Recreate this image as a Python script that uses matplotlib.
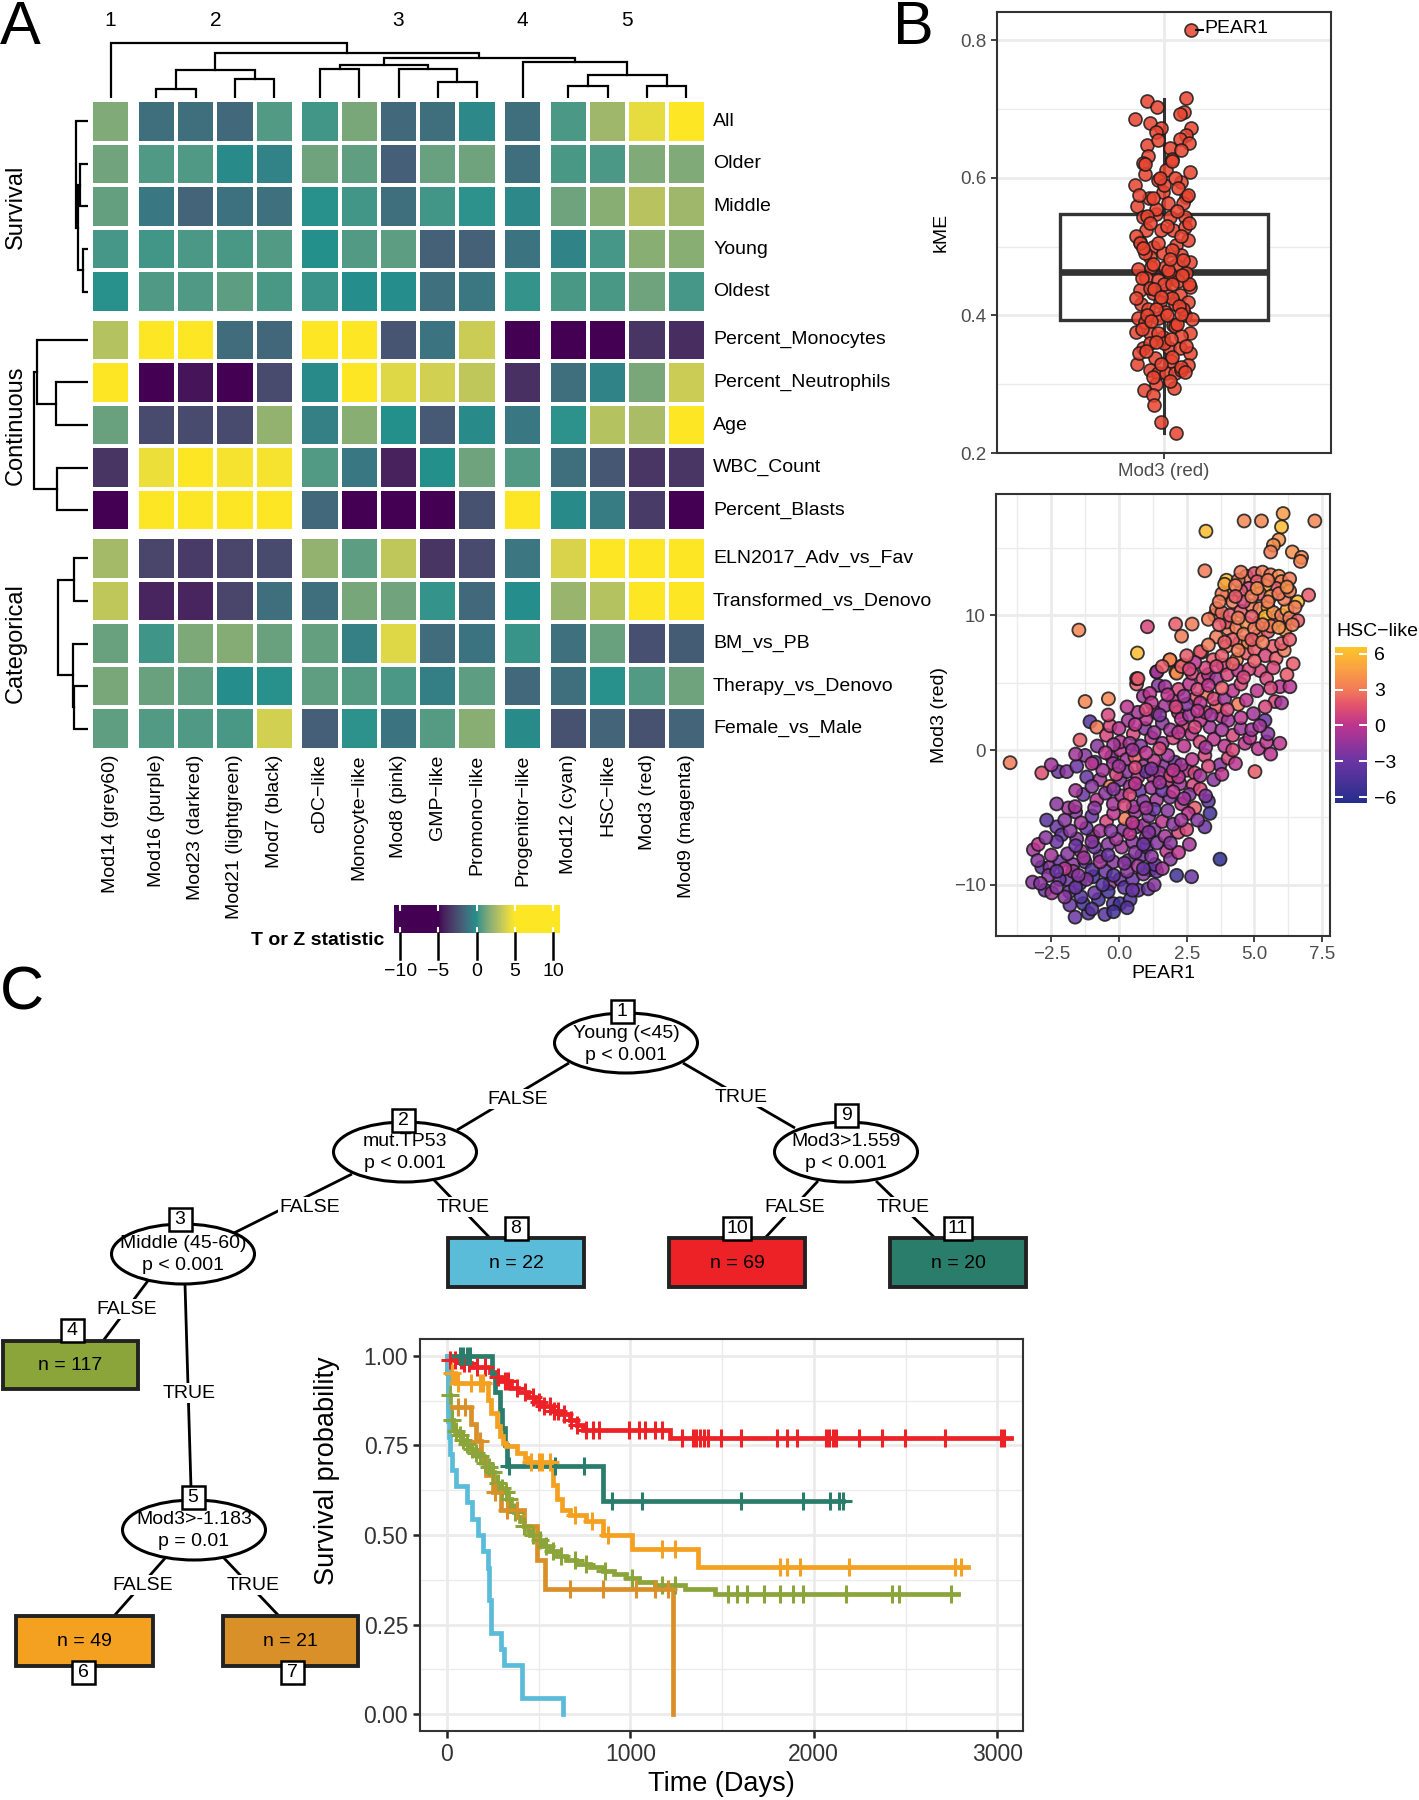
import numpy as np
import matplotlib
matplotlib.use("Agg")
import matplotlib.pyplot as plt
from matplotlib.patches import Ellipse, Rectangle
from matplotlib.colors import ListedColormap, Normalize, LinearSegmentedColormap, to_rgb
from matplotlib.cm import ScalarMappable
from matplotlib.transforms import blended_transform_factory

plt.rcParams['font.family'] = ['Liberation Sans', 'DejaVu Sans']

# ---------------------------------------------------------------- data: panel A
hm_cols = ["Mod14 (grey60)", "Mod16 (purple)", "Mod23 (darkred)", "Mod21 (lightgreen)", "Mod7 (black)",
           "cDC\u2212like", "Monocyte\u2212like", "Mod8 (pink)", "GMP\u2212like", "Promono\u2212like",
           "Progenitor\u2212like", "Mod12 (cyan)", "HSC\u2212like", "Mod3 (red)", "Mod9 (magenta)"]
hm_col_cluster = [1, 2, 2, 2, 2, 3, 3, 3, 3, 3, 4, 5, 5, 5, 5]
hm_rows = ["All", "Older", "Middle", "Young", "Oldest",
           "Percent_Monocytes", "Percent_Neutrophils", "Age", "WBC_Count", "Percent_Blasts",
           "ELN2017_Adv_vs_Fav", "Transformed_vs_Denovo", "BM_vs_PB", "Therapy_vs_Denovo", "Female_vs_Male"]
hm_row_groups = ["Survival"] * 5 + ["Continuous"] * 5 + ["Categorical"] * 5
hm_values = [
    [1.55, -1.3, -1.3, -1.5, 0.6, 0.35, 1.4, -1.5, -1.3, -0.3, -1.3, 0.5, 2.3, 4.3, 5.5],
    [1.2, 0.55, 0.55, -0.2, -0.5, 1.15, 0.85, -1.9, 1.0, 1.15, -1.3, 0.45, 0.5, 1.55, 1.55],
    [0.9, -0.9, -1.7, -1.2, -1.25, 0.05, 0.35, -1.3, 0.35, 0.1, -0.3, 1.15, 1.75, 3.0, 2.3],
    [0.4, 0.35, 0.47, 0.45, 0.6, 0.0, 0.6, 0.8, -1.8, -1.8, -1.1, -0.45, 0.4, 1.75, 1.75],
    [0.05, 0.57, 0.55, 0.8, 0.45, 0.25, -0.1, -0.1, -1.25, -0.95, 0.18, 0.45, 0.45, 1.15, 0.4],
    [2.9, 6.0, 6.0, -1.4, -1.6, 6.0, 6.0, -2.3, -1.1, 3.5, -6.0, -6.0, -6.0, -3.55, -3.8],
    [6.0, -6.0, -4.6, -6.0, -2.7, -0.2, 6.0, 4.1, 3.7, 3.2, -3.7, -1.3, -0.45, 1.4, 3.5],
    [1.05, -2.7, -2.7, -2.7, 2.0, -0.6, 1.75, 0.0, -2.1, -0.2, -0.9, 0.1, 2.9, 2.6, 6.0],
    [-3.55, 4.5, 6.0, 4.8, 4.8, 0.6, -0.9, -4.2, 0.0, 1.15, 0.6, -1.3, -2.2, -3.5, -3.5],
    [-6.0, 6.0, 6.0, 6.0, 6.0, -1.5, -6.0, -6.0, -6.0, -2.4, 5.3, -0.2, -0.8, -3.3, -6.0],
    [2.45, -2.9, -3.3, -2.9, -2.7, 2.0, 0.8, 3.2, -3.55, -2.7, -1.0, 3.9, 6.0, 6.0, 6.0],
    [3.2, -4.1, -4.1, -2.9, -1.3, -1.3, 1.3, 1.2, 0.18, -1.5, -0.1, 2.15, 2.9, 6.0, 6.0],
    [1.05, 0.3, 1.45, 1.65, 1.05, 0.9, -0.6, 4.1, -1.4, -1.1, 0.22, -1.25, 1.05, -2.5, -2.0],
    [1.4, 1.05, 0.85, -0.1, 0.05, 0.85, 0.65, 0.47, -0.65, 0.8, -1.5, -1.3, 0.05, 0.6, 1.15],
    [0.85, 0.6, 0.55, 0.45, 3.7, -1.9, 0.1, -1.1, 0.65, 1.75, -0.2, -2.4, -1.7, -2.4, -1.7],
]
# dendrograms: (merge height, left, right), leaves are indices
col_tree = (55.3, 0, (45.3, (28, (9, 1, 2), (19, 3, 4)),
                      (40.3, (33, (28.7, 5, 6), (29.3, 7, (16, 8, 9))),
                       (36.3, 10, (23, (12, 11, 12), (12, 13, 14))))))
row_trees = [(12.3, 0, (10, (8, 1, 2), (5.3, 3, 4))),
             (54, (51.3, 5, (32, 6, 7)), (30.7, 8, 9)),
             (29.7, (14, 10, 11), (15.3, 12, (13.7, 13, 14)))]
legend_ticks = [-10, -5, 0, 5, 10]

# ---------------------------------------------------------------- data: panel B
kme_values = [0.815, 0.716, 0.711, 0.703, 0.685, 0.696, 0.693, 0.680, 0.673, 0.672,
              0.662, 0.667, 0.657, 0.651, 0.647, 0.644, 0.631, 0.628, 0.622, 0.609,
              0.611, 0.606, 0.597, 0.589, 0.594, 0.572, 0.570, 0.580, 0.559, 0.563,
              0.563, 0.543, 0.548, 0.543, 0.543, 0.524, 0.524, 0.524, 0.529, 0.507,
              0.500, 0.502, 0.509, 0.490, 0.485, 0.488, 0.478, 0.468, 0.471, 0.471,
              0.473, 0.461, 0.454, 0.451, 0.454, 0.442, 0.437, 0.432, 0.432, 0.430,
              0.417, 0.420, 0.417, 0.420, 0.410, 0.405, 0.400, 0.396, 0.396, 0.391,
              0.386, 0.376, 0.374, 0.374, 0.369, 0.352, 0.352, 0.352, 0.345, 0.338,
              0.330, 0.333, 0.328, 0.321, 0.316, 0.316, 0.316, 0.321, 0.301, 0.292,
              0.294, 0.284, 0.270, 0.245, 0.229,
              0.600, 0.575, 0.585, 0.555, 0.535, 0.545, 0.530, 0.515, 0.515, 0.505,
              0.495, 0.490, 0.480, 0.475, 0.460, 0.455, 0.450, 0.445, 0.440, 0.445,
              0.425, 0.425, 0.410, 0.410, 0.400, 0.400, 0.395, 0.385, 0.380, 0.375,
              0.370, 0.360, 0.360, 0.355, 0.345, 0.340, 0.330, 0.325, 0.310, 0.305,
              0.620, 0.625, 0.640, 0.655, 0.590, 0.570,
              0.600, 0.552, 0.505, 0.466, 0.438, 0.414, 0.392, 0.366, 0.348, 0.318,
              0.534, 0.482, 0.458, 0.427, 0.388, 0.361, 0.575, 0.498, 0.446, 0.402]
kme_jitter = [0.096, 0.078, -0.061, -0.025, -0.103, 0.071, 0.056, -0.049, -0.010, 0.098,
              0.078, -0.028, 0.056, 0.090, -0.061, 0.023, -0.058, 0.030, -0.076, 0.092,
              0.008, -0.070, -0.022, -0.105, 0.060, 0.080, -0.054, -0.004, -0.097, 0.014,
              0.068, -0.076, -0.028, 0.020, 0.074, -0.064, -0.010, 0.032, 0.074, -0.088,
              -0.040, 0.044, 0.086, -0.004, -0.052, 0.062, 0.092, -0.094, -0.046, 0.002,
              0.044, 0.078, -0.064, -0.022, 0.026, 0.092, -0.088, -0.040, 0.008, 0.056,
              -0.082, -0.016, 0.038, 0.086, -0.058, 0.002, 0.074, -0.094, -0.022, -0.070,
              0.032, -0.100, -0.052, 0.095, -0.004, -0.076, 0.018, 0.056, 0.092, -0.034,
              -0.097, 0.026, 0.088, -0.052, -0.022, 0.008, 0.038, 0.062, -0.028, -0.073,
              0.035, -0.040, -0.037, -0.012, 0.044,
              0.04, -0.09, 0.05, -0.03, 0.09, -0.06, 0.01, -0.10, 0.06, -0.02,
              0.03, -0.07, 0.07, -0.04, 0.02, -0.08, 0.05, 0.09, -0.05, 0.00,
              0.03, -0.10, 0.07, -0.03, 0.01, -0.06, 0.10, 0.04, -0.08, -0.02,
              0.06, 0.00, -0.05, 0.08, -0.09, 0.03, -0.01, 0.06, -0.04, 0.02,
              -0.07, 0.03, 0.06, -0.02, 0.00, -0.04,
              -0.015, 0.045, -0.085, 0.015, -0.035, 0.055, -0.045, 0.025, -0.065, 0.075,
              -0.050, 0.020, 0.065, -0.012, 0.048, -0.030, 0.085, -0.075, 0.030, 0.060]
kme_box = dict(med=0.463, q1=0.394, q3=0.547, whislo=0.229, whishi=0.714)
kme_category = "Mod3 (red)"
kme_top_gene = "PEAR1"

# scatter (PEAR1, Mod3 (red), HSC-like) by band of Mod3
scatter_low = [(-1.62, -12.4, -3), (-1.13, -12.1, -4), (-0.52, -12.2, -4), (-1.81, -11.5, -3), (-1.32, -11.4, -5),
               (-0.76, -11.1, -5), (-0.21, -11.4, -4), (0.04, -11.4, -5), (0.41, -11.1, -4), (0.71, -10.4, -3),
               (1.08, -10.3, -3), (1.14, -8.9, -3), (-2.73, -10.4, -3), (-2.48, -10.6, -1), (-3.19, -9.8, -2),
               (-1.83, -10.5, -3), (-1.93, -9.6, -3), (-1.44, -9.9, -4), (-0.95, -9.4, -5), (-0.33, -9.9, -1),
               (0.04, -9.6, -3), (-2.85, -8.7, -4), (-2.55, -8.7, -2), (-2.18, -8.3, -3), (-1.69, -8.5, -2),
               (-1.25, -8.3, -3), (-0.70, -7.9, -2), (-0.21, -8.3, -2), (0.34, -8.2, -3), (0.84, -7.8, -3),
               (1.39, -9.0, -3), (1.33, -8.5, -3), (-3.16, -7.4, -1), (-2.98, -7.0, 0), (-2.30, -5.7, -3),
               (-2.67, -5.2, -4), (-2.12, -6.3, -3), (-1.56, -6.6, -2), (-0.95, -6.4, -1), (-0.46, -5.3, 1),
               (0.16, -5.9, -2), (0.65, -5.7, -2), (1.02, -7.2, -3), (1.76, -7.5, 0), (2.19, -6.1, 1),
               (2.13, -9.3, -5), (2.68, -9.4, -3), (3.73, -8.1, -6), (0.22, -5.1, 3),
               (-1.4, -10.9, -4), (-0.9, -10.6, -3), (-0.4, -10.5, -5), (0.2, -10.2, -4), (0.5, -9.6, -3),
               (0.9, -9.2, -2), (-2.2, -9.6, -3), (-2.0, -10.9, -2), (-1.0, -8.9, -4), (-0.5, -9.0, -3),
               (0.3, -9.0, -2), (0.7, -8.6, -1), (-1.9, -7.7, -2), (-1.4, -7.5, -1), (-0.9, -7.2, -3),
               (-0.4, -7.0, -2), (0.1, -7.2, -1), (0.5, -6.8, -2), (1.0, -6.5, -1), (1.4, -6.9, -2),
               (-2.5, -7.8, -1), (-2.3, -6.8, -3), (-1.8, -6.0, -2), (-1.2, -5.8, -3), (-0.7, -6.0, -1),
               (0.4, -6.2, 0), (0.9, -5.6, -1), (1.3, -5.9, -2), (1.7, -6.4, -1), (1.6, -5.3, 0),
               (2.0, -5.5, -2), (2.5, -5.9, 1), (-1.6, -4.6, -2), (-1.0, -4.9, -3), (-0.2, -4.7, 0),
               (0.6, -4.6, -1), (1.1, -4.9, -2), (-1.7, -9.0, -1), (-1.2, -9.6, -2), (-2.6, -9.3, -2),
               (-0.7, -8.3, -1), (0.6, -7.6, -2), (-2.0, -8.8, 0), (1.9, -8.1, -2)]
scatter_midlow = [(-1.87, -4.3, -1), (-1.62, -4.2, -1), (-1.32, -3.3, -3), (-0.82, -3.7, 0), (-0.21, -4.0, -1),
                  (0.53, -4.2, -1), (1.39, -3.7, -1), (1.88, -3.5, -2), (2.31, -4.0, 0), (2.80, -4.3, 2),
                  (3.30, -3.8, -4), (3.17, -5.7, -3), (3.36, -4.7, -5), (2.56, -4.7, 0), (-4.02, -0.94, 3),
                  (-2.85, -1.7, 1.5), (-2.24, -1.6, -3), (-1.93, -1.6, -2), (-1.56, -1.2, -3), (-1.25, -0.4, -2),
                  (-0.89, -0.9, -3), (-0.27, -0.5, -2), (0.04, 0.0, 0), (-0.21, -1.0, -1), (0.28, -0.7, -1),
                  (0.59, -0.5, 2), (0.90, -1.2, -1), (1.27, -2.0, 0), (1.64, -1.2, -2), (2.07, -0.9, -3),
                  (2.50, -1.5, 0), (2.80, -1.7, 1), (3.17, -0.4, 1), (3.73, -1.1, -2), (4.03, -0.6, 1),
                  (5.02, -1.6, 2), (-1.19, -2.0, -3), (-0.70, -2.2, -1), (-0.33, -2.7, 3), (0.04, -2.2, -2),
                  (0.41, -2.7, -1), (0.77, -3.0, -3), (1.76, -2.3, 0), (2.25, -2.5, -1), (2.74, -2.6, 1),
                  (-0.5, -3.2, -2), (0.1, -3.4, -1), (0.9, -3.8, -2), (1.2, -2.8, -1), (1.6, -3.0, -3),
                  (2.0, -3.1, 0), (0.3, -1.6, -2), (0.7, -2.0, 0), (1.0, -1.6, -3), (1.5, -1.7, -1),
                  (1.9, -1.9, 1), (-0.6, -1.5, -1), (-0.1, -1.8, 1), (2.3, -1.1, -1), (2.7, -0.7, 0),
                  (1.3, -0.8, 0), (1.8, -0.4, -1), (3.5, -2.2, -2), (-1.0, -2.7, -2), (0.4, -3.3, 1),
                  (1.3, -4.4, -3), (2.6, -3.3, -2), (3.0, -2.9, 1)]
scatter_mid = [(-1.44, 0.74, 2), (-1.07, 2.1, -4), (-0.82, 1.7, 3), (-0.46, 1.1, 1), (-0.33, 1.8, 1),
               (-1.25, 3.6, 3.5), (-0.39, 3.8, 3.5), (0.04, 0.6, 0), (0.34, 2.2, -1), (0.53, 1.2, 1),
               (0.96, 1.6, -2), (1.33, 2.8, -1), (1.45, 4.8, -2), (1.70, 4.7, -1), (2.00, 3.7, 0),
               (2.19, 2.8, 0), (2.37, 1.7, 1), (2.68, 1.2, 0), (2.99, 0.6, 1), (3.36, 1.7, -1),
               (3.79, 2.5, 0), (2.80, 3.8, 2), (3.24, 4.2, 3), (3.60, 3.2, 2), (4.03, 2.2, -1),
               (4.40, 3.4, 3), (4.65, 0.5, 0), (4.83, 0.9, 0), (5.14, 0.1, 0), (4.96, 2.7, -1),
               (5.39, 2.2, -3), (5.45, 0.6, 0), (5.94, 0.5, 0), (5.76, 3.6, 1), (6.00, 3.5, -1),
               (5.94, 4.7, 0), (6.31, 4.7, 0), (0.65, 4.9, 2), (0.90, 4.0, -1), (1.14, 4.2, 0),
               (1.39, 5.8, -1), (0.65, 5.3, 1),
               (0.4, 0.5, -1), (0.8, 0.3, -2), (1.2, 0.9, 0), (1.6, 0.5, -1), (2.0, 0.9, 1),
               (1.0, 2.3, 0), (1.6, 2.0, -2), (1.9, 1.5, -1), (2.3, 2.3, 0), (2.6, 2.6, -1),
               (3.0, 2.2, 0), (3.2, 2.8, 1), (2.5, 3.4, -2), (3.0, 3.5, 0), (3.5, 3.8, 1),
               (3.9, 3.8, -1), (4.2, 4.4, 0), (1.7, 3.3, -1), (1.2, 3.5, 0), (0.7, 2.8, -1),
               (2.2, 4.5, 1), (2.6, 4.9, 0), (3.5, 0.8, 0), (4.2, 1.1, 1), (4.5, 1.6, -1),
               (3.9, 0.3, 0), (0.0, 1.6, 0), (-0.2, 0.4, -1), (-0.8, 0.3, -2), (-1.6, -0.3, -1),
               (5.5, 1.2, -2), (4.9, 1.5, -1)]
scatter_midhigh = [(-1.48, 8.9, 3.5), (1.05, 9.15, 1), (2.09, 9.35, 2), (2.7, 9.35, 3), (2.31, 8.45, 3),
                   (0.68, 7.2, 6), (3.05, 7.25, 2), (1.88, 6.67, 3), (2.37, 6.3, 3), (2.1, 5.8, 3),
                   (1.4, 5.8, -1), (0.7, 5.3, 2), (2.7, 5.7, 1), (3.1, 5.3, 1), (1.88, 6.7, 3.5),
                   (2.13, 5.7, 4), (2.31, 6.2, 2), (3.0, 7.3, 2), (3.48, 6.7, 2), (3.85, 6.3, 1),
                   (4.34, 6.7, 4), (3.97, 7.7, 3), (3.60, 8.4, 3), (4.03, 9.0, 3), (4.46, 8.0, 3),
                   (4.71, 7.2, 2), (4.77, 8.0, 4), (5.14, 8.5, 3), (5.69, 7.7, 2), (5.20, 5.9, 1),
                   (5.45, 5.3, 1), (6.43, 6.4, 2), (3.54, 10.0, 3), (3.97, 9.5, 2), (4.34, 9.1, 3),
                   (4.71, 9.4, 4), (5.20, 9.5, 3), (5.76, 9.6, 3), (6.13, 8.9, 4),
                   (3.3, 5.6, 0), (3.6, 5.3, -1), (4.0, 5.6, 1), (4.4, 5.9, 0), (4.8, 6.0, 1),
                   (3.2, 6.1, 1), (2.8, 6.5, 0), (2.5, 7.0, 2), (4.2, 8.2, 2), (4.6, 8.6, 3),
                   (5.0, 7.5, 2), (5.4, 7.0, 1), (5.8, 6.8, 2), (6.1, 7.4, 3), (3.8, 7.0, 2),
                   (5.0, 9.0, 3), (5.5, 8.8, 2), (6.0, 7.9, 2)]
scatter_high = [(6.06, 17.55, 4.5), (4.62, 17.0, 3.5), (5.26, 17.0, 3.5), (7.23, 17.0, 3.5), (6.0, 16.56, 6),
                (3.21, 16.24, 6), (5.9, 15.6, 4), (5.7, 15.2, 4), (5.6, 14.7, 3), (6.4, 14.7, 4),
                (6.74, 14.3, 3.5), (6.7, 14.0, 3.5), (3.17, 13.3, 3), (3.97, 12.6, 6), (4.7, 12.9, 3),
                (5.0, 13.1, 1.5), (5.3, 13.2, 3), (5.6, 13.0, 3), (5.9, 12.9, 4), (6.0, 12.5, 3),
                (5.8, 12.0, 2), (5.4, 12.2, 5), (5.1, 12.5, 2), (4.8, 12.0, 1), (4.5, 11.8, 2),
                (4.0, 11.5, 4), (4.2, 11.0, 3), (3.8, 11.6, 3), (3.6, 10.5, 3), (3.8, 10.2, 2.5),
                (4.1, 10.0, 2), (4.5, 10.3, 2), (4.9, 10.7, 3), (5.2, 10.5, 3), (5.5, 10.6, 6),
                (5.4, 9.9, 6), (5.7, 10.2, 4), (6.0, 10.0, 3), (6.2, 10.4, 5), (6.6, 11.0, 6),
                (7.0, 11.5, 2), (6.3, 9.8, 3), (6.6, 9.6, 2),
                (4.4, 12.6, 3), (5.2, 11.6, 2), (5.6, 11.4, 4), (6.1, 11.2, 3), (4.6, 11.0, 1),
                (3.9, 12.3, 5), (4.3, 12.2, 3), (6.3, 12.7, 3), (6.5, 10.6, 3)]
scatter_core = [(-1.0, -11.8, -4), (-0.2, -12.0, -5), (0.3, -11.7, -4), (-2.3, -10.2, -2),
                (-2.9, -9.9, -2), (-1.6, -10.2, -3), (-0.6, -10.0, -4), (0.5, -10.4, -3), (1.3, -10.0, -2),
                (-2.3, -9.0, -3), (-1.5, -9.3, -2), (-0.2, -9.3, -4), (0.9, -8.8, -3), (1.6, -8.8, -1),
                (-3.0, -8.2, -2), (-1.3, -8.0, -1), (-0.4, -7.8, -3), (0.2, -8.4, -2), (1.2, -7.9, -2),
                (2.2, -7.6, 0), (-2.7, -6.5, -2), (-1.6, -7.1, -3), (-1.0, -6.8, -2), (-0.1, -6.6, -1),
                (0.9, -7.0, -3), (1.9, -6.9, -2), (2.6, -7.0, -1), (-2.0, -5.2, -2), (-1.4, -5.4, -1),
                (-0.3, -6.0, -2), (0.5, -5.4, 0), (1.1, -6.1, -2), (2.3, -5.2, -1), (2.9, -5.2, -2),
                (-2.3, -4.0, -2), (-0.9, -4.3, -2), (0.2, -4.1, 1), (1.0, -4.3, -1), (1.8, -4.5, -2),
                (2.4, -3.6, -1), (3.2, -3.4, -2), (-1.6, -3.0, -1), (-0.2, -2.9, -2), (0.6, -2.5, 0),
                (1.5, -2.4, -1), (2.2, -2.0, 0), (3.0, -1.9, -1), (3.8, -1.8, 0), (-2.5, -1.1, -1),
                (-1.0, -1.0, 0), (0.0, -1.2, -1), (0.6, -1.3, 1), (1.2, -1.4, -2), (2.0, -1.5, 0),
                (3.3, -1.2, 1), (4.3, -1.0, 0), (-0.5, -0.2, 0), (0.5, 0.0, -1), (1.0, -0.2, 0),
                (1.5, 0.1, 1), (2.4, 0.3, 0), (3.2, 0.2, -1), (4.2, 0.0, 1), (5.6, -0.3, 0),
                (-0.4, 2.6, 1), (0.6, 1.9, 0), (1.3, 1.3, -1), (2.2, 1.3, 0), (2.8, 1.7, 1),
                (3.8, 1.5, -1), (4.5, 2.4, 0), (5.2, 1.8, -1), (0.3, 3.2, 0), (1.0, 3.0, 1),
                (1.5, 2.6, -2), (2.1, 3.2, 1), (2.9, 2.9, 0), (3.4, 2.6, -1), (4.0, 3.0, 1),
                (4.7, 3.7, 0), (5.4, 3.2, 1), (1.8, 4.1, 0), (2.4, 4.0, -1), (2.9, 4.5, 1),
                (3.3, 4.8, 0), (3.8, 4.6, 2), (4.5, 4.9, 1), (5.1, 4.4, 0), (5.6, 4.6, 1),
                (1.6, 6.2, 2), (2.6, 6.0, 1), (3.6, 6.2, 1), (4.2, 6.4, 2), (4.6, 5.4, 1),
                (5.0, 6.6, 2), (5.7, 6.1, 1), (6.2, 5.6, 2), (3.3, 7.8, 3), (3.9, 8.0, 2),
                (4.4, 7.4, 3), (4.9, 8.2, 2), (5.3, 8.0, 3), (5.6, 9.2, 3), (6.3, 8.2, 2),
                (3.3, 9.7, 3), (3.7, 9.3, 2), (4.4, 9.8, 3), (4.9, 9.9, 2), (5.3, 9.3, 3),
                (5.9, 9.1, 4), (6.4, 9.3, 3), (3.7, 11.0, 3), (4.3, 11.4, 2), (4.9, 11.4, 3),
                (5.5, 11.0, 3), (5.9, 11.6, 3), (6.3, 11.8, 3), (5.1, 12.0, 4), (4.5, 13.2, 3),
                (5.5, 12.6, 3), (6.2, 12.1, 4)]
hsc_ticks = [-6, -3, 0, 3, 6]

# ---------------------------------------------------------------- data: panel C (tree + KM)
inner_nodes = {1: ("Young (<45)", "p < 0.001"), 2: ("mut.TP53", "p < 0.001"),
               9: ("Mod3>1.559", "p < 0.001"), 3: ("Middle (45-60)", "p < 0.001"),
               5: ("Mod3>-1.183", "p = 0.01")}
leaf_ids = [8, 10, 11, 4, 6, 7]
leaf_n = [22, 69, 20, 117, 49, 21]
leaf_colors = ["#5bbcd9", "#ec2226", "#2b7d6b", "#8ca53a", "#f4a020", "#d99029"]

km_time = {
    10: [0, 15, 79, 134, 234, 270, 297, 352, 388, 443, 479, 516, 570, 625, 670, 707, 743, 1217],
    11: [0, 245, 262, 290, 300, 315, 330, 853],
    6: [0, 8, 20, 43, 225, 243, 271, 289, 307, 325, 380, 425, 444, 580, 600, 626, 671, 760, 849, 1011, 1369],
    4: [0, 4, 7, 10, 14, 18, 25, 35, 45, 61, 80, 100, 120, 133, 150, 170, 190, 204, 220, 240, 258, 275, 295,
        312, 330, 348, 365, 385, 401, 420, 440, 455, 490, 527, 560, 598, 650, 706, 780, 849, 910, 975, 1050,
        1136, 1300, 1459],
    7: [0, 3, 8, 134, 160, 185, 215, 250, 294, 419, 491, 534, 1233],
    8: [0, 2, 4, 6, 8, 12, 20, 30, 50, 110, 140, 168, 195, 222, 232, 240, 294, 312, 412, 634],
}
km_surv = {
    10: [1.0, 0.988, 0.979, 0.970, 0.955, 0.94, 0.93, 0.91, 0.90, 0.886, 0.87, 0.86, 0.846, 0.837, 0.822,
         0.808, 0.794, 0.771],
    11: [1.0, 0.95, 0.90, 0.85, 0.80, 0.75, 0.693, 0.594],
    6: [1.0, 0.979, 0.951, 0.923, 0.877, 0.84, 0.803, 0.775, 0.756, 0.747, 0.728, 0.714, 0.705, 0.64, 0.60,
        0.571, 0.557, 0.538, 0.50, 0.46, 0.41],
    4: [1.0, 0.97, 0.94, 0.91, 0.89, 0.85, 0.82, 0.80, 0.79, 0.78, 0.765, 0.755, 0.745, 0.74, 0.73, 0.72,
        0.71, 0.70, 0.69, 0.675, 0.66, 0.645, 0.63, 0.62, 0.60, 0.58, 0.565, 0.55, 0.54, 0.525, 0.51, 0.50,
        0.485, 0.47, 0.455, 0.44, 0.43, 0.42, 0.41, 0.40, 0.39, 0.38, 0.37, 0.36, 0.35, 0.335],
    7: [1.0, 0.952, 0.857, 0.81, 0.762, 0.714, 0.667, 0.619, 0.571, 0.524, 0.43, 0.35, 0.0],
    8: [1.0, 0.955, 0.909, 0.864, 0.818, 0.773, 0.727, 0.682, 0.636, 0.591, 0.545, 0.50, 0.455, 0.409,
        0.318, 0.227, 0.182, 0.136, 0.045, 0.0],
}
km_end = {10: 3075, 11: 2160, 6: 2838, 4: 2785, 7: 1233, 8: 634}
km_censor = {
    10: [20, 45, 75, 95, 120, 165, 210, 280, 315, 335, 380, 425, 470, 505, 530, 565, 585, 605, 640, 675, 710,
         760, 796, 831, 993, 1046, 1082, 1136, 1172, 1280, 1340, 1360, 1380, 1400, 1423, 1495, 1602, 1799,
         1853, 1907, 2068, 2085, 2105, 2122, 2247, 2373, 2498, 2713, 3018, 3036],
    11: [70, 90, 110, 125, 340, 591, 746, 903, 1064, 1602, 1943, 2086, 2140, 2158],
    6: [30, 60, 130, 180, 200, 460, 500, 520, 560, 700, 790, 880, 1172, 1244, 1817, 1853, 1925, 2193, 2767, 2803],
    4: [15, 30, 50, 70, 90, 110, 140, 160, 180, 210, 230, 250, 280, 300, 320, 340, 370, 420, 470, 510, 540,
        580, 620, 700, 760, 860, 1011, 1172, 1244, 1530, 1584, 1638, 1727, 1817, 1889, 1943, 2175, 2426,
        2462, 2749],
    7: [60, 100, 180, 260, 330, 380, 670, 849, 1029, 1136, 1208],
    8: [],
}
km_order = [10, 11, 6, 4, 7, 8]

# ---------------------------------------------------------------- helpers
W, H = 1419, 1800
fig = plt.figure(figsize=(W / 100, H / 100), dpi=100)


def axpx(x0, y0, x1, y1):
    return fig.add_axes([x0 / W, 1 - y1 / H, (x1 - x0) / W, (y1 - y0) / H])


def ftext(x, y, s, **kw):
    return fig.text(x / W, 1 - y / H, s, **kw)


_M = np.array([[0.4124564, 0.3575761, 0.1804375],
               [0.2126729, 0.7151522, 0.0721750],
               [0.0193339, 0.1191920, 0.9503041]])
_WP = np.array([0.95047, 1.0, 1.08883])


def to_lab(c):
    rgb = np.array(to_rgb(c))
    lin = np.where(rgb <= 0.04045, rgb / 12.92, ((rgb + 0.055) / 1.055) ** 2.4)
    xyz = _M @ lin / _WP
    f = np.where(xyz > 0.008856, np.cbrt(xyz), 7.787 * xyz + 16 / 116)
    return np.array([116 * f[1] - 16, 500 * (f[0] - f[1]), 200 * (f[1] - f[2])])


def from_lab(lab):
    L, a, b = lab
    fy = (L + 16) / 116
    f = np.array([fy + a / 500, fy, fy - b / 200])
    xyz = np.where(f ** 3 > 0.008856, f ** 3, (f - 16 / 116) / 7.787) * _WP
    lin = np.clip(np.linalg.inv(_M) @ xyz, 0, 1)
    rgb = np.where(lin <= 0.0031308, 12.92 * lin, 1.055 * lin ** (1 / 2.4) - 0.055)
    return np.clip(rgb, 0, 1)


labs = [to_lab(c) for c in ["#440154", "#21908C", "#FDE725"]]
cols = []
for t in np.linspace(0, 1, 256):
    if t <= 0.5:
        u = t / 0.5
        cols.append(from_lab(labs[0] * (1 - u) + labs[1] * u))
    else:
        u = (t - 0.5) / 0.5
        cols.append(from_lab(labs[1] * (1 - u) + labs[2] * u))
hm_cmap = ListedColormap(cols)
hm_norm = Normalize(-5, 5)

hsc_cmap = LinearSegmentedColormap.from_list(
    "hsc", [(0.0, "#252e8c"), (0.27, "#6b35a3"), (0.5, "#bd3590"), (0.62, "#e2506f"),
            (0.73, "#f27c58"), (0.86, "#f9a043"), (1.0, "#fdc52a")])

# ---------------------------------------------------------------- tree overlay (panel C)
tax = axpx(0, 0, W, H)
tax.set_xlim(0, W)
tax.set_ylim(H, 0)
tax.axis('off')

inner_pos = {1: (626, 1043), 2: (405, 1152), 9: (846, 1152), 3: (183, 1254), 5: (194, 1530)}
inner_id_pos = {1: (622, 1011), 2: (403, 1120), 9: (846, 1115), 3: (180, 1219), 5: (193, 1497)}
leaf_rect = {8: (448, 584, 1238, 1287), 10: (669, 805, 1238, 1287), 11: (890, 1026, 1238, 1287),
             4: (3, 138, 1341, 1389), 6: (16, 153, 1616, 1666), 7: (223, 358, 1616, 1666)}
leaf_id_pos = {8: (516, 1228), 10: (737, 1228), 11: (958, 1228), 4: (72, 1330), 6: (83, 1672), 7: (292, 1672)}
edges = [((569, 1063), (457, 1130), "FALSE", (518, 1099)),
         ((683, 1063), (795, 1128), "TRUE", (741, 1097)),
         ((352, 1174), (232, 1234), "FALSE", (310, 1207)),
         ((434, 1180), (490, 1238), "TRUE", (463, 1207)),
         ((818, 1181), (765, 1238), "FALSE", (795, 1207)),
         ((876, 1181), (935, 1238), "TRUE", (903, 1207)),
         ((150, 1278), (103, 1341), "FALSE", (127, 1309)),
         ((185, 1284), (191, 1488), "TRUE", (189, 1393)),
         ((167, 1556), (114, 1616), "FALSE", (143, 1585)),
         ((222, 1556), (279, 1616), "TRUE", (253, 1585))]
TFS = 14
for p0, p1, lab, lp in edges:
    tax.plot([p0[0], p1[0]], [p0[1], p1[1]], color='black', lw=2.0, zorder=1, solid_capstyle='butt')
    tax.text(lp[0], lp[1], lab, ha='center', va='center', fontsize=TFS, zorder=2,
             bbox=dict(fc='white', ec='none', pad=1.0))


def id_box(x, y, s):
    w = 23 if len(s) == 1 else 28
    tax.add_patch(Rectangle((x - w / 2, y - 11.5), w, 23, fc='white', ec='black', lw=1.8, zorder=5))
    tax.text(x, y + 0.5, s, ha='center', va='center', fontsize=TFS, zorder=6)


for nid, (l1, l2) in inner_nodes.items():
    cx, cy = inner_pos[nid]
    tax.add_patch(Ellipse((cx, cy), 143, 60, fc='white', ec='black', lw=2.2, zorder=3))
    tax.text(cx, cy - 10, l1, ha='center', va='center', fontsize=TFS, zorder=4)
    tax.text(cx, cy + 12, l2, ha='center', va='center', fontsize=TFS, zorder=4)
    id_box(*inner_id_pos[nid], str(nid))

for nid, n, col in zip(leaf_ids, leaf_n, leaf_colors):
    x0, x1, y0, y1 = leaf_rect[nid]
    tax.add_patch(Rectangle((x0, y0), x1 - x0, y1 - y0, fc=col, ec='#222222', lw=2.8, zorder=3))
    tax.text((x0 + x1) / 2, (y0 + y1) / 2 + 1, f"n = {n}", ha='center', va='center', fontsize=TFS, zorder=4)
    id_box(*leaf_id_pos[nid], str(nid))

# ---------------------------------------------------------------- panel A heatmap
GAP_C, GAP_R = 0.16, 0.13


def build_edges(groups, gap):
    e = [0.0]
    idx = []
    centers = []
    for i, g in enumerate(groups):
        if i > 0 and g != groups[i - 1]:
            e.append(e[-1] + gap)
            idx.append(-1)
        centers.append(e[-1] + 0.5)
        e.append(e[-1] + 1.0)
        idx.append(i)
    return np.array(e), idx, np.array(centers)


xe, cidx, xc = build_edges(hm_col_cluster, GAP_C)
ye, ridx, yc = build_edges(hm_row_groups, GAP_R)
Z = np.full((len(ridx), len(cidx)), np.nan)
for a, ri in enumerate(ridx):
    for b, ci in enumerate(cidx):
        if ri >= 0 and ci >= 0:
            Z[a, b] = hm_values[ri][ci]

ax_hm = axpx(91, 100, 706, 750)
ax_hm.pcolormesh(xe, ye, np.ma.masked_invalid(Z), cmap=hm_cmap, norm=hm_norm,
                 edgecolors='white', linewidth=1.6)
ax_hm.set_xlim(0, xe[-1])
ax_hm.set_ylim(ye[-1], 0)
ax_hm.axis('off')
for y, lab in zip(yc, hm_rows):
    ax_hm.text(xe[-1] + 0.18, y, lab, ha='left', va='center', fontsize=14, clip_on=False)
for x, lab in zip(xc, hm_cols):
    ax_hm.text(x, ye[-1] + 0.1, lab, ha='center', va='top', rotation=90, fontsize=14, clip_on=False)

# group titles
tr_rows = blended_transform_factory(fig.transFigure, ax_hm.transData)
for g in ["Survival", "Continuous", "Categorical"]:
    ys = [yc[i] for i, gg in enumerate(hm_row_groups) if gg == g]
    ax_hm.text(16 / W, np.mean(ys), g, transform=tr_rows, rotation=90, ha='center', va='center', fontsize=17)
tr_cols = blended_transform_factory(ax_hm.transData, fig.transFigure)
for g in sorted(set(hm_col_cluster)):
    xs = [xc[i] for i, gg in enumerate(hm_col_cluster) if gg == g]
    ax_hm.text(np.mean(xs), 1 - 20 / H, str(g), transform=tr_cols, ha='center', va='center', fontsize=15)


def draw_tree(ax, node, pos, top=True):
    if isinstance(node, int):
        return pos[node], 0.0
    h, l, r = node
    x1, h1 = draw_tree(ax, l, pos, top)
    x2, h2 = draw_tree(ax, r, pos, top)
    if top:
        ax.plot([x1, x1, x2, x2], [h1, h, h, h2], color='black', lw=1.6, solid_joinstyle='miter')
    else:
        ax.plot([h1, h, h, h2], [x1, x1, x2, x2], color='black', lw=1.6, solid_joinstyle='miter')
    return (x1 + x2) / 2, h


ax_cd = axpx(91, 41, 706, 98)
draw_tree(ax_cd, col_tree, xc, top=True)
ax_cd.set_xlim(0, xe[-1])
ax_cd.set_ylim(0, 57)
ax_cd.axis('off')

ax_rd = axpx(30, 100, 88, 750)
for tr in row_trees:
    draw_tree(ax_rd, tr, yc, top=False)
ax_rd.set_xlim(58, 0)
ax_rd.set_ylim(ye[-1], 0)
ax_rd.axis('off')

# heatmap legend
ax_lg = axpx(394, 905, 560, 962)
lo, hi = -10.8, 10.9
gx = np.linspace(lo, hi, 401)
bar_bottom = (962 - 933) / 57
ax_lg.pcolormesh(gx, [bar_bottom, 1.0], ((gx[:-1] + gx[1:]) / 2)[None, :], cmap=hm_cmap, norm=hm_norm)
for t in legend_ticks:
    ax_lg.plot([t, t], [bar_bottom, bar_bottom + 0.09], color='white', lw=1.5)
    ax_lg.plot([t, t], [0.91, 1.0], color='white', lw=1.5)
    ax_lg.plot([t, t], [bar_bottom, 0.06], color='black', lw=1.8)
    ax_lg.text(t, -0.16, f"{t}".replace('-', '\u2212'), ha='center', va='center', fontsize=14, clip_on=False)
ax_lg.set_xlim(lo, hi)
ax_lg.set_ylim(0, 1)
ax_lg.axis('off')
ftext(384, 940, "T or Z statistic", ha='right', va='center', fontsize=14, fontweight='bold')


# ---------------------------------------------------------------- ggplot-like theme
def gg(ax, xmaj, xmin, ymaj, ymin, lsize=13.5):
    ax.set_xticks(xmaj)
    ax.set_xticks(xmin, minor=True)
    ax.set_yticks(ymaj)
    ax.set_yticks(ymin, minor=True)
    ax.grid(which='major', color='#ebebeb', lw=2.0)
    ax.grid(which='minor', color='#ebebeb', lw=1.0)
    ax.set_axisbelow(True)
    for s in ax.spines.values():
        s.set_color('#333333')
        s.set_linewidth(1.5)
    ax.tick_params(which='major', length=4, width=1.3, color='#333333', labelsize=lsize, labelcolor='#4d4d4d')
    ax.tick_params(which='minor', length=0)


# ---------------------------------------------------------------- panel B top
axb = axpx(997, 12, 1331, 453)
st = dict(kme_box)
st['fliers'] = []
axb.bxp([st], positions=[1], widths=0.75, showfliers=False, showcaps=False, patch_artist=True,
        boxprops=dict(facecolor='white', edgecolor='#333333', lw=2.4),
        medianprops=dict(color='#333333', lw=4.8, solid_capstyle='butt'),
        whiskerprops=dict(color='#333333', lw=2.2))
axb.scatter(1 + np.array(kme_jitter), kme_values, s=88, c='#e8432f', edgecolors='#1a1a1a',
            linewidths=1.2, alpha=0.85, zorder=3)
top_i = int(np.argmax(kme_values))
axb.plot([1 + kme_jitter[top_i] + 0.02, 1.14], [kme_values[top_i]] * 2, color='black', lw=1.5, zorder=4)
axb.text(1.145, kme_values[top_i] + 0.002, kme_top_gene, ha='left', va='center', fontsize=14)
axb.set_xlim(0.4, 1.6)
axb.set_ylim(0.2, 0.841)
gg(axb, [1], [], [0.2, 0.4, 0.6, 0.8], [0.3, 0.5, 0.7])
axb.set_xticklabels([kme_category])
axb.set_ylabel("kME", fontsize=14, labelpad=8)

# ---------------------------------------------------------------- panel B scatter
pts = np.array(scatter_low + scatter_midlow + scatter_mid + scatter_midhigh + scatter_high + scatter_core)
axs = axpx(996, 494, 1330, 936)
hnorm = Normalize(-6.5, 6.56)
axs.scatter(pts[:, 0], pts[:, 1], c=pts[:, 2], cmap=hsc_cmap, norm=hnorm, s=88,
            edgecolors='#1a1a1a', linewidths=1.3, alpha=0.85, zorder=3)
axs.set_xlim(-4.54, 7.79)
axs.set_ylim(-13.8, 19.0)
gg(axs, [-2.5, 0, 2.5, 5, 7.5], [-3.75, -1.25, 1.25, 3.75, 6.25], [-10, 0, 10], [-5, 5, 15])
axs.set_xlabel("PEAR1", fontsize=14, labelpad=1)
axs.set_ylabel("Mod3 (red)", fontsize=14, labelpad=4)

cax = axpx(1335, 647, 1367, 803)
cb = fig.colorbar(ScalarMappable(norm=hnorm, cmap=hsc_cmap), cax=cax, ticks=hsc_ticks)
cb.outline.set_visible(False)
cax.yaxis.set_ticks_position('both')
cax.tick_params(axis='y', direction='in', length=6, width=1.4, color='white', labelsize=14,
                labelcolor='black', pad=5, labelleft=False, labelright=True)
ftext(1336, 632, "HSC\u2212like", ha='left', va='center', fontsize=14)

# ---------------------------------------------------------------- panel C KM
axk = axpx(420, 1339, 1023, 1731)
col_of = dict(zip(leaf_ids, leaf_colors))
for nid in km_order:
    t = list(km_time[nid]) + [km_end[nid]]
    s = list(km_surv[nid]) + [km_surv[nid][-1]]
    axk.step(t, s, where='post', color=col_of[nid], lw=3.4, zorder=3, solid_joinstyle='miter')
    ct = np.array(km_censor[nid], dtype=float)
    if len(ct):
        idx = np.searchsorted(km_time[nid], ct, side='right') - 1
        cs = np.array(km_surv[nid])[idx]
        axk.plot(ct, cs, ls='none', marker='+', ms=13, mew=2.2, color=col_of[nid], zorder=4)
axk.set_xlim(-146, 3140)
axk.set_ylim(-0.047, 1.047)
gg(axk, [0, 1000, 2000, 3000], [500, 1500, 2500], [0, 0.25, 0.5, 0.75, 1.0],
   [0.125, 0.375, 0.625, 0.875], lsize=16.5)
axk.set_yticklabels(["0.00", "0.25", "0.50", "0.75", "1.00"])
axk.tick_params(which='major', length=5, width=1.8, color='#222222', labelcolor='#333333')
axk.set_xlabel("Time (Days)", fontsize=19.5, labelpad=4)
axk.set_ylabel("Survival probability", fontsize=19.5)
axk.yaxis.set_label_coords(-0.133, 0.665)

# ---------------------------------------------------------------- panel letters
ftext(0, 0, "A", fontsize=44, ha='left', va='top')
ftext(893, 0, "B", fontsize=44, ha='left', va='top')
ftext(0, 966, "C", fontsize=44, ha='left', va='top')

fig.savefig("out.png", dpi=100, facecolor='white')
